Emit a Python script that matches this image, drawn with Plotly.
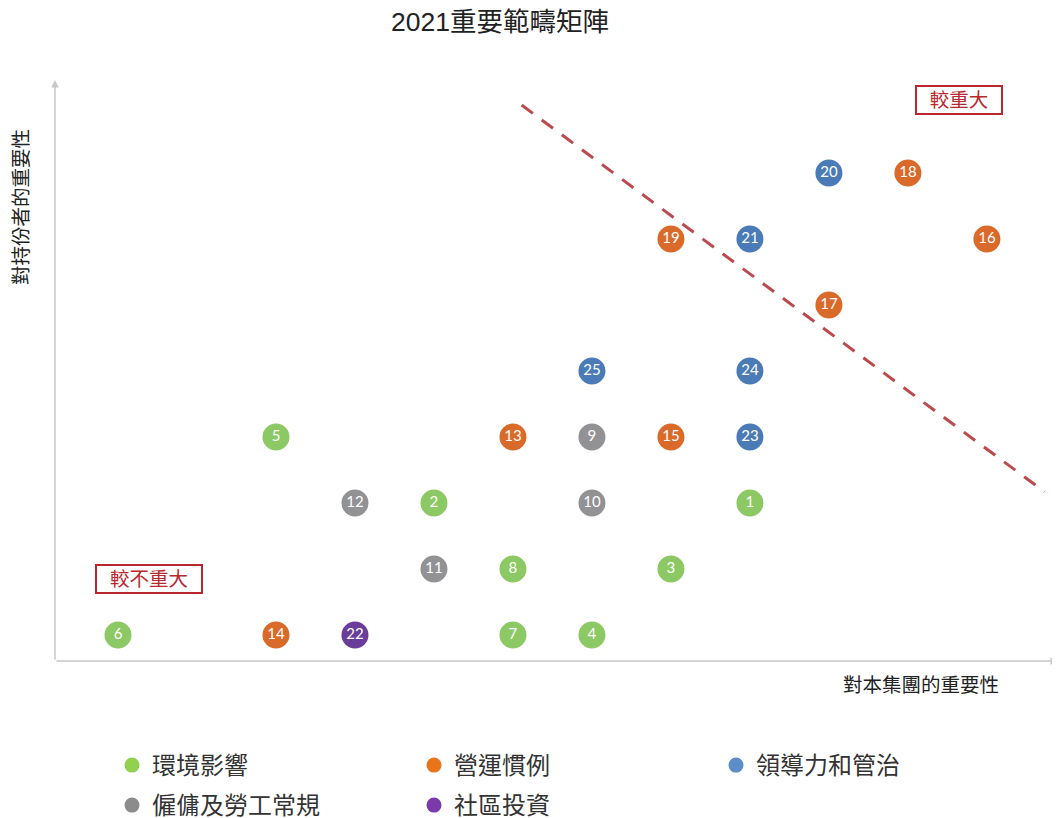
import plotly.graph_objects as go

# ---- data ----
groups = ["環境影響", "營運慣例", "領導力和管治", "僱傭及勞工常規", "社區投資"]
marker_colors = ["#8CC864", "#D96A2A", "#4A7BB6", "#929295", "#6A3D9A"]
legend_colors = ["#92D050", "#E8751A", "#5B8DC8", "#8C8C8C", "#7B3AAB"]
legend_rows = ["legend", "legend", "legend", "legend2", "legend2"]

env_ids = ["1", "2", "3", "4", "5", "6", "7", "8"]
env_x = [9, 5, 8, 7, 3, 1, 6, 6]
env_y = [3, 3, 2, 1, 4, 1, 1, 2]

ops_ids = ["13", "14", "15", "16", "17", "18", "19"]
ops_x = [6, 3, 8, 12, 10, 11, 8]
ops_y = [4, 1, 4, 7, 6, 8, 7]

gov_ids = ["20", "21", "23", "24", "25"]
gov_x = [10, 9, 9, 9, 7]
gov_y = [8, 7, 4, 5, 5]

lab_ids = ["9", "10", "11", "12"]
lab_x = [7, 7, 5, 4]
lab_y = [4, 3, 2, 3]

com_ids = ["22"]
com_x = [4]
com_y = [1]

series = [
    (env_ids, env_x, env_y),
    (ops_ids, ops_x, ops_y),
    (gov_ids, gov_x, gov_y),
    (lab_ids, lab_x, lab_y),
    (com_ids, com_x, com_y),
]

# threshold line (data coordinates)
thr_x = [6.11, 12.73]
thr_y = [9.03, 3.17]

x_range = [0.2025, 12.9]
y_range = [0.606, 9.41]

title_text = "2021重要範疇矩陣"
x_title = "對本集團的重要性"
y_title = "對持份者的重要性"
hi_label = "較重大"
lo_label = "較不重大"

CJK = "Liberation Sans, Noto Sans CJK TC, sans-serif"

# page body has an 8px margin: layout is computed in figure coordinates
PW, PH = 1003, 581          # plot area size
ML, MT = 47, 72             # margins (left, top)
MR = 1060 - ML - PW
MB = 818 - MT - PH
BOTTOM = MT + PH            # figure y of plot bottom


def px_x(fx):
    return (fx - ML) / PW


def px_y(fy):
    return (BOTTOM - fy) / PH


fig = go.Figure()

# threshold dashed line
fig.add_trace(go.Scatter(
    x=thr_x, y=thr_y, mode="lines",
    line=dict(color="#BA4A4E", width=3, dash="14px,11px"),
    showlegend=False, hoverinfo="skip"))

for (ids, xs, ys), name, mc in zip(series, groups, marker_colors):
    fig.add_trace(go.Scatter(
        x=xs, y=ys, mode="markers+text", text=ids,
        textposition="middle center",
        textfont=dict(color="white", size=15, family="Lato, sans-serif"),
        marker=dict(size=27, color=mc, line=dict(width=0)),
        name=name, showlegend=False))

# legend-only entries
for name, lc, lg in zip(groups, legend_colors, legend_rows):
    fig.add_trace(go.Scatter(
        x=[None], y=[None], mode="markers", name=name, legend=lg,
        marker=dict(size=15, color=lc)))

axis_col = "#C8C8C8"
annotations = [
    # axes with arrows
    dict(x=x_range[1], y=y_range[0], ax=x_range[0], ay=y_range[0],
         xref="x", yref="y", axref="x", ayref="y", text="", showarrow=True,
         arrowhead=2, arrowsize=1, arrowwidth=1.5, arrowcolor=axis_col),
    dict(x=x_range[0], y=y_range[1], ax=x_range[0], ay=y_range[0],
         xref="x", yref="y", axref="x", ayref="y", text="", showarrow=True,
         arrowhead=2, arrowsize=1, arrowwidth=1.5, arrowcolor=axis_col),
    # labels in boxes
    dict(x=11.646, y=9.106, xref="x", yref="y", text=hi_label, showarrow=False,
         font=dict(size=19.5, color="#B8282E", family=CJK),
         bordercolor="#B8282E", borderwidth=2, borderpad=0, width=84, height=26,
         bgcolor="white"),
    dict(x=1.392, y=1.848, xref="x", yref="y", text=lo_label, showarrow=False,
         font=dict(size=19.5, color="#B8282E", family=CJK),
         bordercolor="#B8282E", borderwidth=2, borderpad=0, width=104, height=26,
         bgcolor="white"),
    # axis titles
    dict(x=px_x(921 - 8), y=px_y(685 - 8), xref="paper", yref="paper",
         xanchor="center", yanchor="middle",
         text=x_title, showarrow=False, font=dict(size=19.5, color="#222", family=CJK)),
    dict(x=px_x(21 - 8), y=px_y(207 - 8), xref="paper", yref="paper",
         xanchor="center", yanchor="middle",
         text=y_title, showarrow=False, textangle=-90,
         font=dict(size=19.5, color="#222", family=CJK)),
]

leg_common = dict(orientation="h", xanchor="left", yanchor="top",
                  entrywidth=257, entrywidthmode="pixels",
                  font=dict(size=24, color="#333", family=CJK),
                  itemclick=False, itemdoubleclick=False)

fig.update_layout(
    width=1060, height=818,
    margin=dict(l=ML, r=MR, t=MT, b=MB, autoexpand=False),
    paper_bgcolor="white", plot_bgcolor="white",
    title=dict(text=title_text, x=(500 - 8) / 1060, xanchor="center",
               y=1 - (22 - 8) / 818, yanchor="middle",
               font=dict(size=26.5, color="#222", family=CJK)),
    xaxis=dict(range=x_range, showgrid=False, zeroline=False, showticklabels=False,
               showline=False, ticks=""),
    yaxis=dict(range=y_range, showgrid=False, zeroline=False, showticklabels=False,
               showline=False, ticks=""),
    legend=dict(x=px_x(112 - 8), y=px_y(743 - 8), **leg_common),
    legend2=dict(x=px_x(112 - 8), y=px_y(783 - 8), **leg_common),
    annotations=annotations,
    showlegend=True,
)

fig.write_html("out.html")
